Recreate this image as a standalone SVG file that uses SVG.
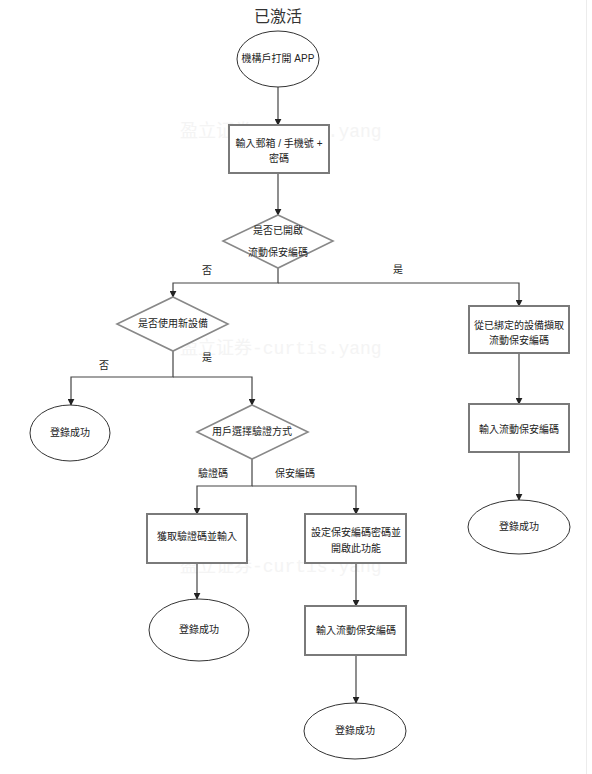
<svg xmlns="http://www.w3.org/2000/svg" width="592" height="774" viewBox="0 0 592 774">
<style>
.bg{fill:#ffffff}
.wm{font-family:"Liberation Mono","Noto Sans CJK SC",monospace;font-size:18px;fill:#f4f4f4}
.t{font-family:"Liberation Sans","Noto Sans CJK TC",sans-serif;font-size:10px;fill:#222;text-anchor:middle}
.lbl{font-family:"Liberation Sans","Noto Sans CJK TC",sans-serif;font-size:10px;fill:#222;text-anchor:middle}
.title{font-family:"Liberation Sans","Noto Sans CJK TC",sans-serif;font-size:16px;fill:#333;text-anchor:middle}
.box{fill:#fff;stroke:#7a7a7a;stroke-width:2}
.ell{fill:#fff;stroke:#333;stroke-width:1}
.dia{fill:#fff;stroke:#888;stroke-width:1.6}
.ln{fill:none;stroke:#444;stroke-width:1.2}
</style>
<defs>
<marker id="ah" viewBox="0 0 10 10" refX="9" refY="5" markerWidth="7" markerHeight="7" orient="auto" markerUnits="userSpaceOnUse">
<path d="M0,0 L10,5 L0,10 z" fill="#222"/>
</marker>
</defs>
<rect class="bg" x="0" y="0" width="592" height="774"/>
<line x1="586.5" y1="0" x2="586.5" y2="774" stroke="#ececec" stroke-width="1"/>

<g id="watermarks">
<text class="wm" x="180" y="137">盈立证券-curtis.yang</text>
<text class="wm" x="180" y="354">盈立证券-curtis.yang</text>
<text class="wm" x="180" y="572">盈立证券-curtis.yang</text>
</g>

<text class="title" x="278" y="22">已激活</text>

<g id="connectors">
<line class="ln" x1="278" y1="87" x2="278" y2="125" marker-end="url(#ah)"/>
<line class="ln" x1="278" y1="173" x2="278" y2="215" marker-end="url(#ah)"/>
<polyline class="ln" points="278,268 278,283 173,283 173,297" marker-end="url(#ah)"/>
<polyline class="ln" points="278,283 519,283 519,306" marker-end="url(#ah)"/>
<polyline class="ln" points="173,351 173,377 71,377 71,405" marker-end="url(#ah)"/>
<polyline class="ln" points="173,377 252,377 252,405" marker-end="url(#ah)"/>
<polyline class="ln" points="252,459 252,486 197,486 197,514" marker-end="url(#ah)"/>
<polyline class="ln" points="252,486 356,486 356,514" marker-end="url(#ah)"/>
<line class="ln" x1="197" y1="563" x2="197" y2="599" marker-end="url(#ah)"/>
<line class="ln" x1="356" y1="563" x2="356" y2="606" marker-end="url(#ah)"/>
<line class="ln" x1="356" y1="655" x2="356" y2="703" marker-end="url(#ah)"/>
<line class="ln" x1="519" y1="353" x2="519" y2="404" marker-end="url(#ah)"/>
<line class="ln" x1="519" y1="452" x2="519" y2="500" marker-end="url(#ah)"/>
<text class="lbl" x="207" y="274">否</text>
<text class="lbl" x="398" y="273">是</text>
<text class="lbl" x="104" y="369">否</text>
<text class="lbl" x="207" y="361">是</text>
<text class="lbl" x="213" y="477">驗證碼</text>
<text class="lbl" x="295" y="477">保安編碼</text>
</g>

<g id="start">
<ellipse class="ell" cx="278" cy="59" rx="41" ry="28"/>
<text class="t" x="278" y="62">機構戶打開 APP</text>
</g>

<g id="input">
<rect class="box" x="229" y="125" width="100" height="48"/>
<text class="t" x="279" y="147">輸入郵箱 / 手機號 +</text>
<text class="t" x="279" y="162">密碼</text>
</g>

<g id="dec1">
<polygon class="dia" points="278,215 333,241 278,268 223,241"/>
<text class="t" x="278" y="234">是否已開啟</text>
<text class="t" x="278" y="256">流動保安編碼</text>
</g>

<g id="dec2">
<polygon class="dia" points="173,297 228,324 173,351 117,324"/>
<text class="t" x="173" y="327">是否使用新設備</text>
</g>

<g id="fetchbound">
<rect class="box" x="469" y="306" width="100" height="47"/>
<text class="t" x="519" y="329">從已綁定的設備擷取</text>
<text class="t" x="519" y="344">流動保安編碼</text>
</g>

<g id="success1">
<ellipse class="ell" cx="70" cy="433" rx="40" ry="28"/>
<text class="t" x="70" y="436">登錄成功</text>
</g>

<g id="dec3">
<polygon class="dia" points="252,405 308,432 252,459 197,432"/>
<text class="t" x="252" y="435">用戶選擇驗證方式</text>
</g>

<g id="getcode">
<rect class="box" x="147" y="514" width="100" height="49"/>
<text class="t" x="197" y="540">獲取驗證碼並輸入</text>
</g>

<g id="setpin">
<rect class="box" x="305" y="514" width="101" height="49"/>
<text class="t" x="356" y="536">設定保安編碼密碼並</text>
<text class="t" x="356" y="552">開啟此功能</text>
</g>

<g id="success2">
<ellipse class="ell" cx="199" cy="630" rx="50" ry="31"/>
<text class="t" x="199" y="633">登錄成功</text>
</g>

<g id="inputpin1">
<rect class="box" x="305" y="606" width="101" height="49"/>
<text class="t" x="356" y="634">輸入流動保安編碼</text>
</g>

<g id="success3">
<ellipse class="ell" cx="355" cy="731" rx="51" ry="28"/>
<text class="t" x="355" y="734">登錄成功</text>
</g>

<g id="inputpin2">
<rect class="box" x="469" y="404" width="100" height="48"/>
<text class="t" x="519" y="433">輸入流動保安編碼</text>
</g>

<g id="success4">
<ellipse class="ell" cx="519" cy="527" rx="51" ry="27"/>
<text class="t" x="519" y="530">登錄成功</text>
</g>
</svg>
